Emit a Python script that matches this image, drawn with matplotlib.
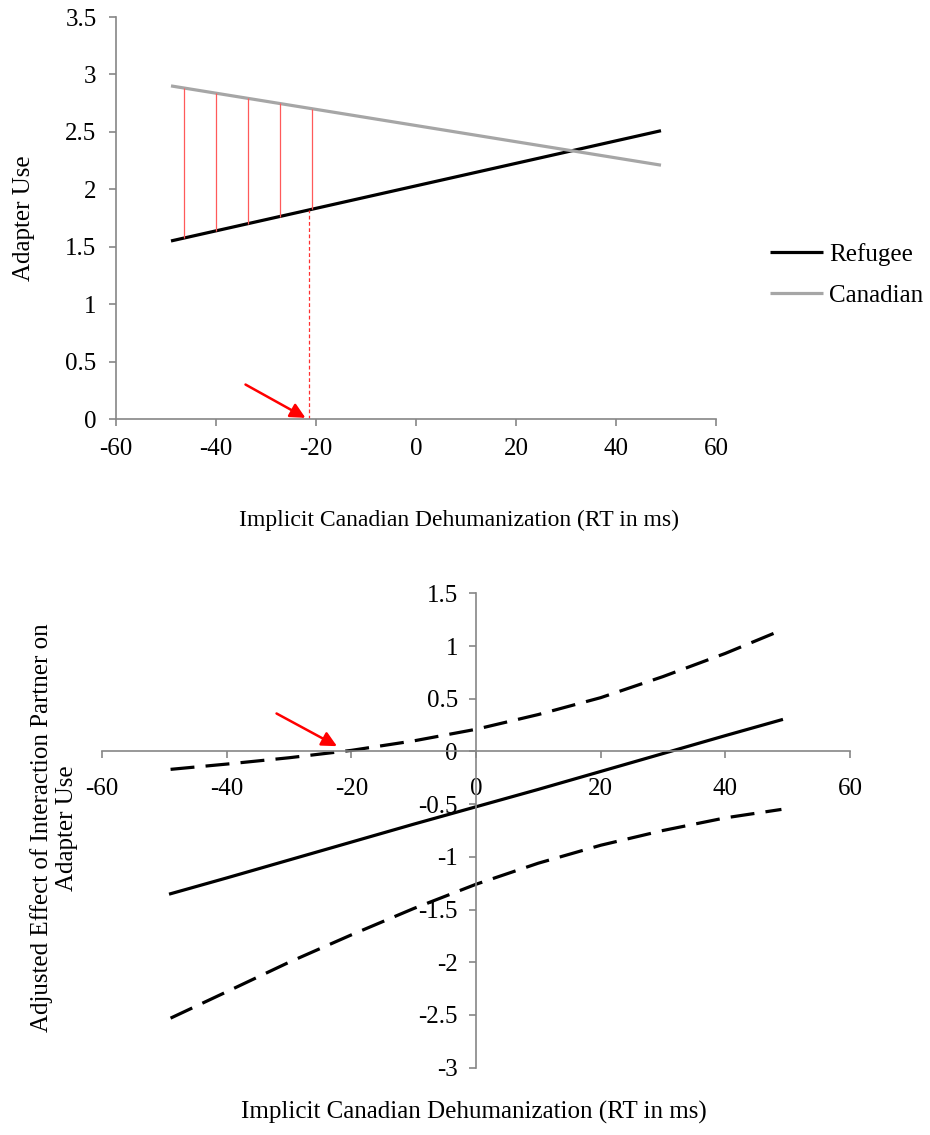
import matplotlib
matplotlib.use("Agg")
import matplotlib.pyplot as plt

plt.rcParams['font.family'] = ['Liberation Serif', 'DejaVu Serif']
plt.rcParams['axes.unicode_minus'] = False

# Data - top panel (simple slopes)
x_ends = [-49, 49]
refugee = [1.55, 2.51]
canadian = [2.90, 2.21]
red_x = [-46.5, -40.1, -33.7, -27.3, -20.9]
red_low = [1.574, 1.637, 1.700, 1.762, 1.825]
red_high = [2.882, 2.837, 2.792, 2.747, 2.702]
jn_x = -21.5
jn_y = 1.82

# Data - bottom panel (effect with confidence band)
x_pts = [-49, -40, -30, -20, -10, 0, 10, 20, 30, 40, 49]
effect = [-1.35, -1.20, -1.03, -0.86, -0.69, -0.525, -0.36, -0.19, -0.02, 0.15, 0.30]
upper = [-0.17, -0.12, -0.06, 0.01, 0.10, 0.21, 0.35, 0.51, 0.71, 0.93, 1.15]
lower = [-2.53, -2.28, -2.00, -1.74, -1.49, -1.26, -1.06, -0.89, -0.75, -0.63, -0.55]

x_ticks = [-60, -40, -20, 0, 20, 40, 60]
top_yticks = [0, 0.5, 1, 1.5, 2, 2.5, 3, 3.5]
bot_yticks = [-3, -2.5, -2, -1.5, -1, -0.5, 0, 0.5, 1, 1.5]

spine_col = '#868686'
fs = 18

fig = plt.figure(figsize=(9.3, 11.35), dpi=100)

# ---- top panel ----
ax1 = fig.add_axes([116/930, 1-419/1135, 600/930, 402/1135])
ax1.plot(x_ends, refugee, color='black', lw=2.3, label='Refugee', solid_capstyle='butt')
ax1.plot(x_ends, canadian, color='#a6a6a6', lw=2.3, label='Canadian', solid_capstyle='butt')
ax1.vlines(red_x, red_low, red_high, color='#ff5a5a', lw=0.9)
ax1.plot([jn_x, jn_x], [0, jn_y], color='#ff3030', lw=0.9, ls=(0, (3, 2)))
ax1.annotate('', xy=(-22.1, 0.01), xytext=(-34.1, 0.30),
             arrowprops=dict(arrowstyle='-|>,head_length=0.9,head_width=0.45', color='red', lw=1.8,
                             shrinkA=0, shrinkB=0))
ax1.set_xlim(-60, 60)
ax1.set_ylim(0, 3.5)
ax1.set_xticks(x_ticks)
ax1.set_yticks(top_yticks)
ax1.set_yticklabels(['0', '0.5', '1', '1.5', '2', '2.5', '3', '3.5'])
for s in ['top', 'right']:
    ax1.spines[s].set_visible(False)
for s in ['left', 'bottom']:
    ax1.spines[s].set_color(spine_col)
    ax1.spines[s].set_linewidth(1.2)
ax1.tick_params(colors=spine_col, labelcolor='black', labelsize=fs, length=5, width=1.2, pad=9)
ax1.set_ylabel('Adapter Use', fontsize=fs, labelpad=22)
fig.text(459/930, 1-520/1135, 'Implicit Canadian Dehumanization (RT in ms)', fontsize=17,
         ha='center', va='center')
fig.legend(loc='center left', bbox_to_anchor=(770/930, 1-275/1135), frameon=False,
           fontsize=fs, handlelength=2.1, handletextpad=0.25, labelspacing=0.75,
           borderpad=0, borderaxespad=0)

# ---- bottom panel ----
ax2 = fig.add_axes([102/930, 1-1067.7/1135, 748/930, 474.4/1135])
ax2.plot(x_pts, effect, color='black', lw=2.3)
ax2.plot(x_pts, upper, color='black', lw=2.3, ls=(0, (7.5, 3.5)))
ax2.plot(x_pts, lower, color='black', lw=2.3, ls=(0, (7.5, 3.5)))
ax2.annotate('', xy=(-22.3, 0.05), xytext=(-32.0, 0.36),
             arrowprops=dict(arrowstyle='-|>,head_length=0.9,head_width=0.45', color='red', lw=1.8,
                             shrinkA=0, shrinkB=0))
ax2.set_xlim(-60, 60)
ax2.set_ylim(-3, 1.5)
ax2.set_xticks(x_ticks)
ax2.set_yticks(bot_yticks)
ax2.set_yticklabels(['-3', '-2.5', '-2', '-1.5', '-1', '-0.5', '0', '0.5', '1', '1.5'])
for s in ['top', 'right']:
    ax2.spines[s].set_visible(False)
ax2.spines['left'].set_position(('data', 0))
ax2.spines['bottom'].set_position(('data', 0))
for s in ['left', 'bottom']:
    ax2.spines[s].set_color(spine_col)
    ax2.spines[s].set_linewidth(1.2)
ax2.tick_params(colors=spine_col, labelcolor='black', labelsize=fs, length=5, width=1.2)
ax2.tick_params(axis='x', pad=14)
ax2.tick_params(axis='y', pad=8)
fig.text(54/930, 1-828/1135, 'Adjusted Effect of Interaction Partner on\nAdapter Use', fontsize=fs,
         ha='center', va='center', rotation=90, linespacing=1.15)
fig.text(474/930, 1-1112/1135, 'Implicit Canadian Dehumanization (RT in ms)', fontsize=fs,
         ha='center', va='center')

fig.savefig('out.png', dpi=100)
